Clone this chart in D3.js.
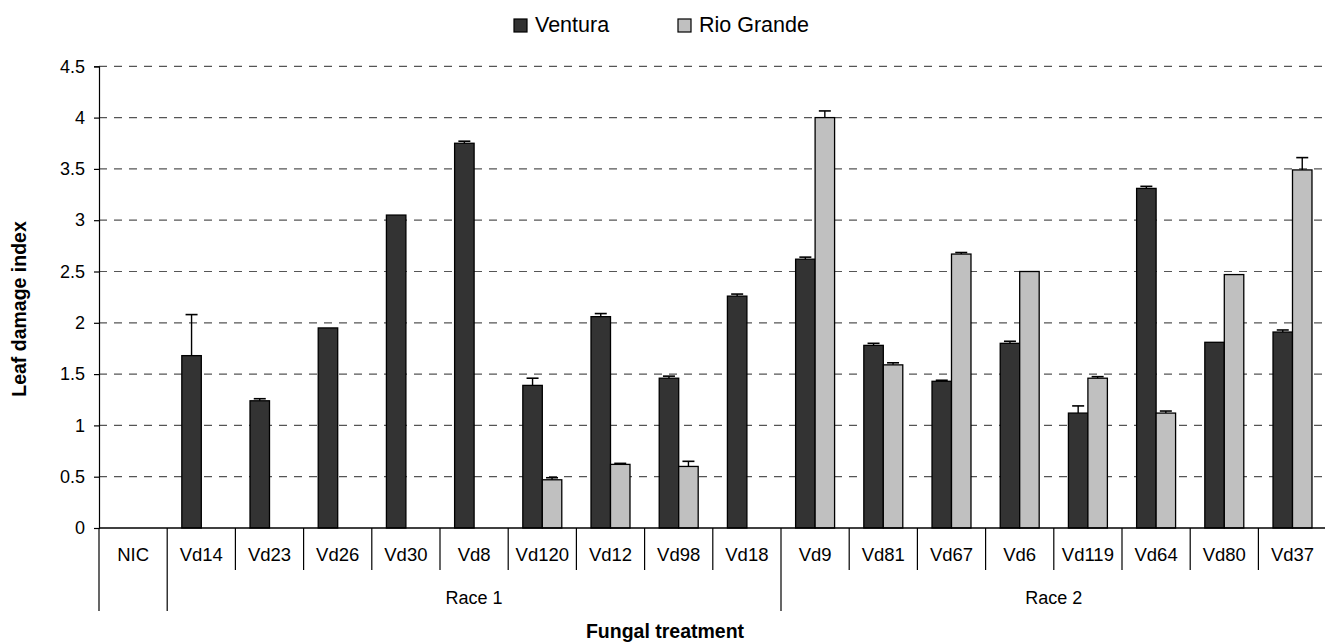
<!DOCTYPE html>
<html>
<head>
<meta charset="utf-8">
<script src="https://cdn.jsdelivr.net/npm/d3@7"></script>
<style>
  html, body { margin: 0; padding: 0; background: #fff; }
  svg { display: block; font-family: "Liberation Sans", Arial, sans-serif; }
</style>
</head>
<body>
<svg id="chart" width="1325" height="642"></svg>
<script>
// Fungal treatments (isolates) grouped by race
const categories = ["NIC", "Vd14", "Vd23", "Vd26", "Vd30", "Vd8", "Vd120", "Vd12", "Vd98", "Vd18",
                    "Vd9", "Vd81", "Vd67", "Vd6", "Vd119", "Vd64", "Vd80", "Vd37"];
const groups = [
  { label: "", from: "NIC", to: "NIC" },
  { label: "Race 1", from: "Vd14", to: "Vd18" },
  { label: "Race 2", from: "Vd9", to: "Vd37" }
];
const seriesNames = ["Ventura", "Rio Grande"];

// Mean leaf damage index per cultivar
const ventura   = [0, 1.68, 1.24, 1.95, 3.05, 3.75, 1.39, 2.06, 1.46, 2.26,
                   2.62, 1.78, 1.43, 1.80, 1.12, 3.31, 1.81, 1.91];
const rioGrande = [0, 0, 0, 0, 0, 0, 0.47, 0.62, 0.60, 0,
                   4.00, 1.59, 2.67, 2.50, 1.46, 1.12, 2.47, 3.49];

// Upper end of the error bars
const venturaErr   = [0, 2.08, 1.26, 1.95, 3.05, 3.77, 1.46, 2.09, 1.48, 2.28,
                      2.64, 1.80, 1.44, 1.82, 1.19, 3.33, 1.81, 1.93];
const rioGrandeErr = [0, 0, 0, 0, 0, 0, 0.49, 0.63, 0.65, 0,
                      4.065, 1.61, 2.685, 2.50, 1.475, 1.14, 2.47, 3.61];

const yTicks = [0, 0.5, 1, 1.5, 2, 2.5, 3, 3.5, 4, 4.5];

const colors = { "Ventura": "#333333", "Rio Grande": "#c0c0c0" };

const svg = d3.select("#chart");
const plotLeft = 99, plotRight = 1326.6, plotTop = 66.3, plotBottom = 528;

const x = d3.scaleBand().domain(categories).range([plotLeft, plotRight]).padding(0);
const bw = x.bandwidth();
const gapW = bw * 0.75 / 3.5;
const x1 = d3.scaleBand().domain(seriesNames).range([gapW, bw - gapW]).padding(0);
const y = d3.scaleLinear().domain([0, 4.5]).range([plotBottom, plotTop]);

// Dashed gridlines
svg.append("g")
  .selectAll("line")
  .data(yTicks.filter(d => d > 0))
  .join("line")
  .attr("x1", plotLeft).attr("x2", 1325)
  .attr("y1", d => y(d)).attr("y2", d => y(d))
  .attr("stroke", "#555")
  .attr("stroke-width", 1.2)
  .attr("stroke-dasharray", "8,7");

// Y axis
const yAxis = d3.axisLeft(y).tickValues(yTicks).tickSize(5).tickPadding(9)
  .tickFormat(d => String(d));
const yg = svg.append("g").attr("transform", `translate(${plotLeft},0)`).call(yAxis);
yg.select(".domain").attr("stroke", "#000").attr("stroke-width", 1.2);
yg.selectAll(".tick line").attr("stroke", "#000").attr("stroke-width", 1.2);
yg.selectAll(".tick text").attr("font-size", 18).attr("fill", "#000")
  .attr("font-family", "Liberation Sans, Arial, sans-serif");

// Bars
const rows = categories.map((c, i) => ({
  cat: c,
  vals: [
    { s: "Ventura", v: ventura[i], e: venturaErr[i] },
    { s: "Rio Grande", v: rioGrande[i], e: rioGrandeErr[i] }
  ]
}));

const cg = svg.append("g").selectAll("g").data(rows).join("g")
  .attr("transform", d => `translate(${x(d.cat)},0)`);

cg.selectAll("rect").data(d => d.vals).join("rect")
  .attr("x", d => x1(d.s))
  .attr("width", x1.bandwidth())
  .attr("y", d => y(d.v))
  .attr("height", d => y(0) - y(d.v))
  .attr("fill", d => colors[d.s])
  .attr("stroke", d => d.v > 0 ? "#000" : "#bbb")
  .attr("stroke-width", 1.3);

// Error bars
const capW = 12;
const eb = cg.selectAll("g.err").data(d => d.vals.filter(v => v.e > v.v)).join("g").attr("class", "err");
eb.append("line")
  .attr("x1", d => x1(d.s) + x1.bandwidth() / 2).attr("x2", d => x1(d.s) + x1.bandwidth() / 2)
  .attr("y1", d => y(d.v)).attr("y2", d => y(d.e))
  .attr("stroke", "#000").attr("stroke-width", 1.4);
eb.append("line")
  .attr("x1", d => x1(d.s) + x1.bandwidth() / 2 - capW / 2)
  .attr("x2", d => x1(d.s) + x1.bandwidth() / 2 + capW / 2)
  .attr("y1", d => y(d.e)).attr("y2", d => y(d.e))
  .attr("stroke", "#000").attr("stroke-width", 1.6);

// X axis baseline
svg.append("line")
  .attr("x1", plotLeft).attr("x2", 1325)
  .attr("y1", y(0)).attr("y2", y(0))
  .attr("stroke", "#000").attr("stroke-width", 1.3);

// Category separators and labels
const catTickBottom = 570, groupTickBottom = 611;
const bounds = categories.map(c => x(c)).concat([plotRight]);
svg.append("g").selectAll("line").data(bounds).join("line")
  .attr("x1", d => d).attr("x2", d => d)
  .attr("y1", y(0)).attr("y2", catTickBottom)
  .attr("stroke", "#000").attr("stroke-width", 1.2);

svg.append("g").selectAll("text").data(categories).join("text")
  .attr("x", d => x(d) + bw / 2)
  .attr("y", 560.5)
  .attr("text-anchor", "middle")
  .attr("font-size", 18.5)
  .attr("fill", "#000")
  .text(d => d);

// Race group separators and labels
const groupEdges = [x(groups[0].from), x(groups[1].from), x(groups[2].from), plotRight];
svg.append("g").selectAll("line").data(groupEdges).join("line")
  .attr("x1", d => d).attr("x2", d => d)
  .attr("y1", catTickBottom).attr("y2", groupTickBottom)
  .attr("stroke", "#000").attr("stroke-width", 1.2);

svg.append("g").selectAll("text").data(groups.filter(g => g.label)).join("text")
  .attr("x", g => (x(g.from) + x(g.to) + bw) / 2)
  .attr("y", 603.5)
  .attr("text-anchor", "middle")
  .attr("font-size", 18)
  .attr("fill", "#000")
  .text(g => g.label);

// Axis titles
svg.append("text")
  .attr("x", 665)
  .attr("y", 638)
  .attr("text-anchor", "middle")
  .attr("font-size", 19.5)
  .attr("font-weight", "bold")
  .attr("fill", "#000")
  .text("Fungal treatment");

svg.append("text")
  .attr("transform", "translate(25.5,309) rotate(-90)")
  .attr("text-anchor", "middle")
  .attr("font-size", 19.5)
  .attr("font-weight", "bold")
  .attr("fill", "#000")
  .text("Leaf damage index");

// Legend
const legendPos = [514, 678];
const lg = svg.append("g").selectAll("g").data(seriesNames).join("g")
  .attr("transform", (d, i) => `translate(${legendPos[i]},19)`);
lg.append("rect")
  .attr("width", 13).attr("height", 13)
  .attr("fill", d => colors[d])
  .attr("stroke", "#000").attr("stroke-width", 1.2);
lg.append("text")
  .attr("x", 21).attr("y", 13)
  .attr("font-size", 21.5)
  .attr("fill", "#000")
  .text(d => d);
</script>
</body>
</html>
